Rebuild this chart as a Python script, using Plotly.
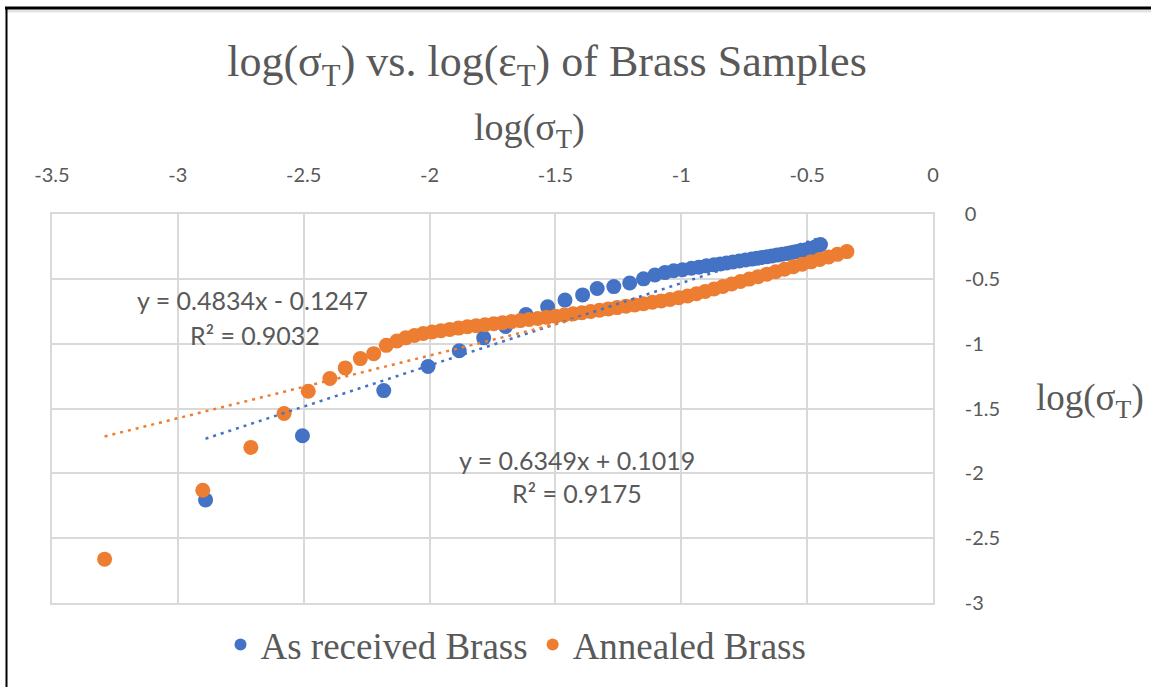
import plotly.graph_objects as go

# ---------------- data ----------------
received_x = [-2.890, -2.505, -2.182, -2.006, -1.882, -1.785, -1.698, -1.617, -1.531,
              -1.462, -1.392, -1.334, -1.268, -1.205, -1.150, -1.105, -1.065, -1.030,
              -0.995, -0.960, -0.930, -0.900, -0.870, -0.845, -0.820, -0.795, -0.770,
              -0.745, -0.720, -0.700, -0.680, -0.660, -0.640, -0.620, -0.600, -0.580,
              -0.565, -0.550, -0.535, -0.520, -0.505, -0.490, -0.478, -0.466, -0.455,
              -0.447]
received_y = [-2.205, -1.710, -1.362, -1.176, -1.055, -0.955, -0.868, -0.776, -0.716,
              -0.664, -0.624, -0.574, -0.560, -0.532, -0.500, -0.470, -0.452, -0.438,
              -0.430, -0.418, -0.410, -0.400, -0.392, -0.385, -0.378, -0.370, -0.362,
              -0.355, -0.348, -0.342, -0.336, -0.330, -0.324, -0.317, -0.310, -0.304,
              -0.298, -0.293, -0.287, -0.282, -0.276, -0.270, -0.262, -0.252, -0.243,
              -0.236]

annealed_x = [-3.291, -2.901, -2.710, -2.578, -2.482, -2.396, -2.335, -2.275, -2.222,
              -2.172, -2.130, -2.095, -2.060, -2.025, -1.990, -1.955, -1.920, -1.885,
              -1.850, -1.815, -1.780, -1.745, -1.710, -1.675, -1.640, -1.605, -1.570,
              -1.535, -1.500, -1.465, -1.430, -1.395, -1.360, -1.325, -1.290, -1.255,
              -1.220, -1.185, -1.150, -1.115, -1.080, -1.045, -1.010, -0.975, -0.940,
              -0.905, -0.870, -0.835, -0.800, -0.765, -0.730, -0.695, -0.660, -0.625,
              -0.590, -0.555, -0.520, -0.485, -0.450, -0.415, -0.380, -0.342]
annealed_y = [-2.662, -2.130, -1.800, -1.538, -1.367, -1.269, -1.187, -1.115, -1.077,
              -1.013, -0.980, -0.955, -0.937, -0.922, -0.910, -0.900, -0.890, -0.880,
              -0.870, -0.862, -0.854, -0.846, -0.838, -0.830, -0.822, -0.814, -0.806,
              -0.797, -0.788, -0.779, -0.770, -0.761, -0.752, -0.742, -0.732, -0.722,
              -0.712, -0.702, -0.692, -0.681, -0.670, -0.659, -0.646, -0.632, -0.615,
              -0.597, -0.578, -0.559, -0.540, -0.521, -0.502, -0.483, -0.464, -0.445,
              -0.426, -0.407, -0.388, -0.369, -0.350, -0.331, -0.311, -0.290]

# trendline coefficients (as printed on the chart)
received_fit = (0.6349, 0.1019, 0.9175)
annealed_fit = (0.4834, -0.1247, 0.9032)

x_ticks = [-3.5, -3, -2.5, -2, -1.5, -1, -0.5, 0]
y_ticks = [0, -0.5, -1, -1.5, -2, -2.5, -3]

BLUE = "#4472C4"
ORANGE = "#ED7D31"
GREY = "#595959"
GRID = "#D9D9D9"
SERIF = "Liberation Serif, Times New Roman, serif"
SANS = "Lato, Liberation Sans, sans-serif"

def trend(xs, fit):
    m, b, _ = fit
    x0, x1 = min(xs), max(xs)
    return [x0, x1], [m * x0 + b, m * x1 + b]

fig = go.Figure()
fig.add_trace(go.Scatter(x=received_x, y=received_y, mode="markers",
                         name="As received Brass",
                         marker=dict(color=BLUE, size=15)))
fig.add_trace(go.Scatter(x=annealed_x, y=annealed_y, mode="markers",
                         name="Annealed Brass",
                         marker=dict(color=ORANGE, size=15)))
tx, ty = trend(received_x, received_fit)
fig.add_trace(go.Scatter(x=tx, y=ty, mode="lines", showlegend=False, hoverinfo="skip",
                         line=dict(color=BLUE, width=2.5, dash="3px,5px")))
tx, ty = trend(annealed_x, annealed_fit)
fig.add_trace(go.Scatter(x=tx, y=ty, mode="lines", showlegend=False, hoverinfo="skip",
                         line=dict(color=ORANGE, width=2.5, dash="3px,5px")))

W, H = 1151, 687
L, R, T, B = 52, 218, 214, 84
pw, ph = W - L - R, H - T - B

def px(xp):
    return (xp - L) / pw

def py(yp):
    return (H - B - yp) / ph

fig.update_layout(
    width=W, height=H,
    margin=dict(l=L, r=R, t=T, b=B, autoexpand=False),
    paper_bgcolor="white", plot_bgcolor="white",
    title=dict(text="log(σ<sub>T</sub>) vs. log(ε<sub>T</sub>) of Brass Samples",
               font=dict(family=SERIF, size=44, color=GREY),
               x=547 / W, xanchor="center", xref="container",
               y=1 - 61 / H, yanchor="middle", yref="container"),
    xaxis=dict(side="top", range=[-3.5, 0], tickvals=x_ticks,
               ticktext=[f"{v:g}" for v in x_ticks],
               showgrid=True, gridcolor=GRID, gridwidth=1.5,
               showline=True, linecolor=GRID, linewidth=1.5, mirror=True,
               zeroline=False, ticks="", ticklabelstandoff=22,
               tickfont=dict(family=SANS, size=20, color=GREY)),
    yaxis=dict(side="right", range=[-3, 0], tickvals=y_ticks,
               ticktext=[f"{v:g}" for v in y_ticks],
               showgrid=True, gridcolor=GRID, gridwidth=1.5,
               showline=True, linecolor=GRID, linewidth=1.5, mirror=True,
               zeroline=False, ticks="", ticklabelstandoff=26,
               tickfont=dict(family=SANS, size=20, color=GREY)),
    legend=dict(orientation="h", x=516 / W, xanchor="center", xref="container",
                y=1 - 645 / H, yanchor="middle", yref="container",
                font=dict(family=SERIF, size=37, color=GREY),
                itemsizing="constant", tracegroupgap=0),
    showlegend=True,
)

annotations = [
    dict(text="log(σ<sub>T</sub>)", x=px(529), y=py(130), xref="paper", yref="paper",
         showarrow=False, font=dict(family=SERIF, size=38, color=GREY),
         xanchor="center", yanchor="middle"),
    dict(text="log(σ<sub>T</sub>)", x=px(1090), y=py(400), xref="paper", yref="paper",
         showarrow=False, font=dict(family=SERIF, size=37, color=GREY),
         xanchor="center", yanchor="middle"),
    dict(text=f"y = {annealed_fit[0]}x - {abs(annealed_fit[1])}", x=px(252), y=py(300),
         xref="paper", yref="paper", showarrow=False,
         font=dict(family=SANS, size=25, color=GREY), xanchor="center", yanchor="middle"),
    dict(text=f"R² = {annealed_fit[2]}", x=px(255), y=py(335),
         xref="paper", yref="paper", showarrow=False,
         font=dict(family=SANS, size=25, color=GREY), xanchor="center", yanchor="middle"),
    dict(text=f"y = {received_fit[0]}x + {received_fit[1]}", x=px(577), y=py(460),
         xref="paper", yref="paper", showarrow=False,
         font=dict(family=SANS, size=25, color=GREY), xanchor="center", yanchor="middle"),
    dict(text=f"R² = {received_fit[2]}", x=px(577), y=py(493),
         xref="paper", yref="paper", showarrow=False,
         font=dict(family=SANS, size=25, color=GREY), xanchor="center", yanchor="middle"),
]
fig.update_layout(annotations=annotations)

# outer frame (top and left black edges)
fig.add_shape(type="line", xref="paper", yref="paper",
              x0=px(5), x1=px(W + 5), y0=py(11), y1=py(11),
              line=dict(color="#E3E3E3", width=3))
fig.add_shape(type="line", xref="paper", yref="paper",
              x0=px(5), x1=px(W + 5), y0=py(8), y1=py(8),
              line=dict(color="black", width=3))
fig.add_shape(type="line", xref="paper", yref="paper",
              x0=px(6.5), x1=px(6.5), y0=py(7), y1=py(H + 5),
              line=dict(color="black", width=2))

fig.write_html("out.html")
